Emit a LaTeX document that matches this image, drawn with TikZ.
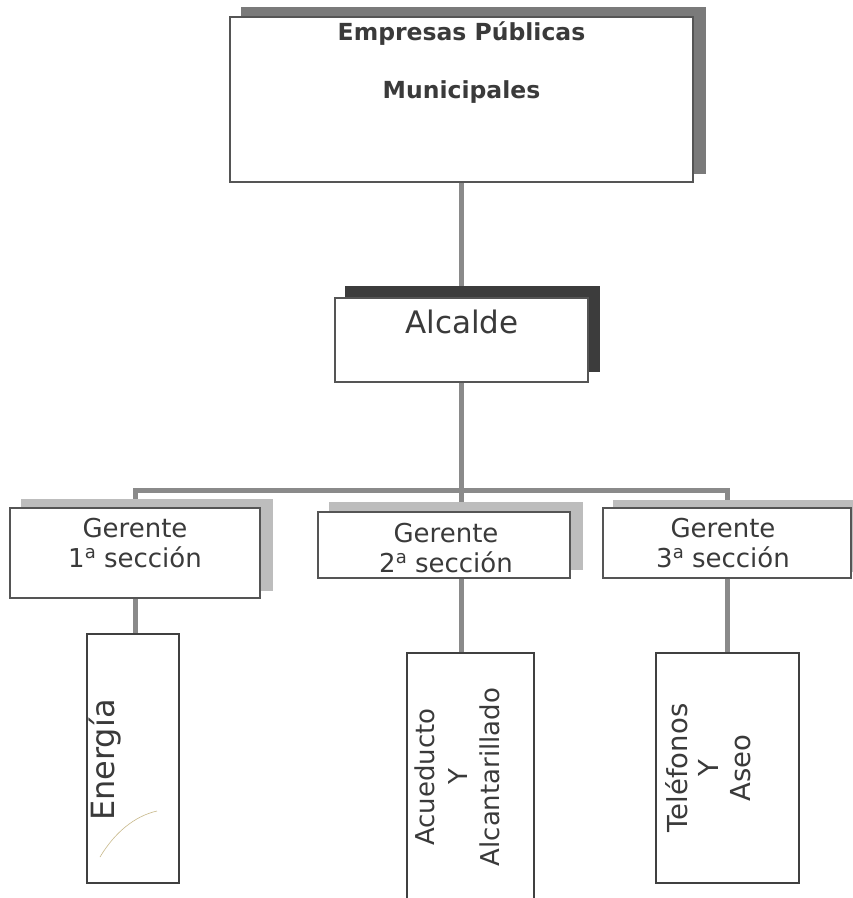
\documentclass[tikz,border=0pt]{standalone}
\usepackage{fontspec}
\setmainfont{DejaVu Sans}
\usetikzlibrary{backgrounds}
\definecolor{txt}{HTML}{3A3A3A}
\definecolor{boxline}{HTML}{555555}
\definecolor{conn}{HTML}{8A8A8A}
\definecolor{shtop}{HTML}{7A7A7A}
\definecolor{shalc}{HTML}{3C3C3C}
\definecolor{shger}{HTML}{BDBDBD}
\definecolor{arcol}{HTML}{C8B98A}
\newcommand{\ordA}{\raisebox{0.34em}{\fontsize{18}{18}\selectfont a}}
\tikzset{
  box/.style={draw=boxline, line width=1.2pt, fill=white, rectangle, inner sep=0pt},
  lowbox/.style={draw=black!75, line width=1.6pt, fill=white, rectangle, inner sep=0pt},
  lbl/.style={text=txt, inner sep=0pt, align=center},
  connector/.style={draw=conn, line width=5pt},
}
\begin{document}
\begin{tikzpicture}[x=1pt,y=-1pt]
\useasboundingbox (0,0) rectangle (853,898);
% boxes
\node[box, minimum width=463pt, minimum height=165pt] (emp) at (461.5,99.5) {};
\node[box, minimum width=253pt, minimum height=84pt] (alc) at (461.5,340) {};
\node[box, minimum width=250pt, minimum height=90pt] (g1) at (135,553) {};
\node[box, minimum width=252pt, minimum height=66pt] (g2) at (444,545) {};
\node[box, minimum width=248pt, minimum height=70pt] (g3) at (727,543) {};
\node[lowbox, minimum width=92pt, minimum height=249pt] (en) at (133,758.5) {};
\node[lowbox, minimum width=127pt, minimum height=257pt] (ac) at (470.5,781.5) {};
\node[lowbox, minimum width=143pt, minimum height=230pt] (tel) at (727.5,768) {};
\coordinate (j) at (461.5,490);
\begin{pgfonlayer}{background}
  % connectors
  \draw[connector] (emp.south) -- (alc.north);
  \draw[connector] (alc.south) -- (j);
  \draw[connector, line join=miter] (g1.north) |- (j) -| (g3.north);
  \draw[connector] (j) -- (j |- g2.north);
  \draw[connector] (g1.south) -- (g1.south |- en.north);
  \draw[connector] (j |- g2.south) -- (j |- ac.north);
  \draw[connector] (g3.south) -- (g3.south |- tel.north);
  % shadows
  \fill[shtop] ([shift={(12,-9)}]emp.south west) rectangle ([shift={(12,-9)}]emp.north east);
  \fill[shalc] ([shift={(11,-11)}]alc.south west) rectangle ([shift={(11,-11)}]alc.north east);
  \fill[shger] ([shift={(12,-8)}]g1.south west) rectangle ([shift={(12,-8)}]g1.north east);
  \fill[shger] ([shift={(12,-9)}]g2.south west) rectangle ([shift={(12,-9)}]g2.north east);
  \fill[shger] ([shift={(11,-7)}]g3.south west) rectangle ([shift={(11,-7)}]g3.north east);
\end{pgfonlayer}
% texts
\node[lbl, font=\bfseries\fontsize{23.5}{28}\selectfont] (empT1) at (461.5,34) {Empresas Públicas};
\node[lbl, font=\bfseries\fontsize{23.5}{28}\selectfont] (empT2) at (461.5,92) {Municipales};
\node[lbl, font=\fontsize{31}{36}\selectfont] (alcT) at (462,322) {Alcalde};
\node[lbl, font=\fontsize{26}{30}\selectfont] (g1T) at (135,543) {Gerente\\1\ordA{} sección};
\node[lbl, font=\fontsize{26}{30}\selectfont] (g2T) at (446,548) {Gerente\\2\ordA{} sección};
\node[lbl, font=\fontsize{26}{30}\selectfont] (g3T) at (723,543) {Gerente\\3\ordA{} sección};
\node[lbl, font=\fontsize{32}{36}\selectfont, rotate=90] (enT) at (105,760) {Energía};
\node[lbl, font=\fontsize{26}{32.5}\selectfont, rotate=90] (acT) at (457.5,777) {Acueducto\\Y\\Alcantarillado};
\node[lbl, font=\fontsize{27.5}{31.5}\selectfont, rotate=90] (telT) at (708,768) {Teléfonos\\Y\\Aseo};
% faint arc inside the Energía box
\draw[arcol, line width=0.6pt] (100,857) .. controls (115,832) and (135,816) .. (157,811);
\end{tikzpicture}
\end{document}
